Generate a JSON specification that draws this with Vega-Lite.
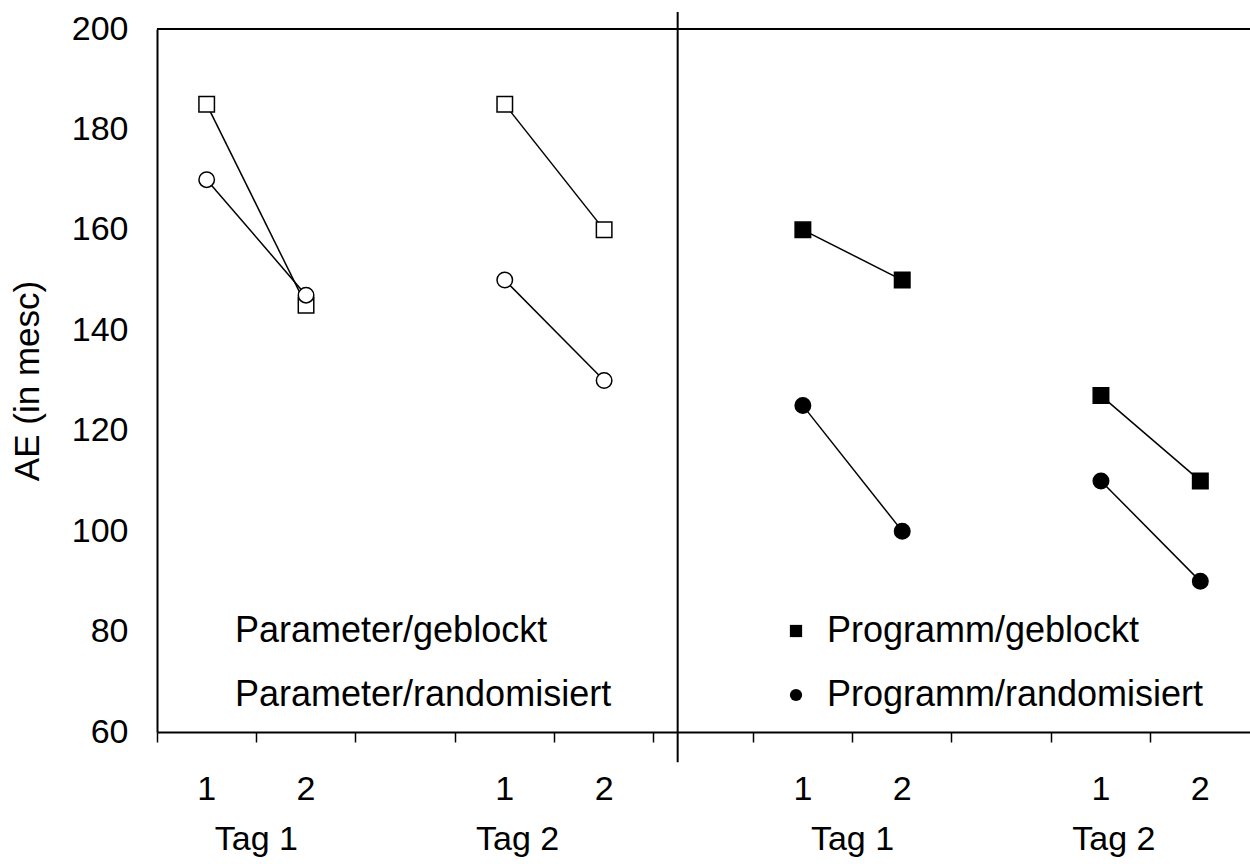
{
  "$schema": "https://vega.github.io/schema/vega-lite/v6.json",
  "width": 1093,
  "height": 703,
  "autosize": {"type": "none"},
  "padding": {"left": 157, "top": 29, "right": 0, "bottom": 132},
  "background": "white",
  "config": {
    "font": "Liberation Sans",
    "view": {"stroke": null},
    "axis": {"labelColor": "black", "titleColor": "black", "domainColor": "black", "tickColor": "black", "labelFont": "Liberation Sans", "titleFont": "Liberation Sans"},
    "legend": {"labelFont": "Liberation Sans", "labelColor": "black"}
  },
  "datasets": {
    "werte": [
      {"series": "Parameter/geblockt", "tag": "Tag 1", "block": "1", "slot": "P-T1-1", "AE": 185},
      {"series": "Parameter/geblockt", "tag": "Tag 1", "block": "2", "slot": "P-T1-2", "AE": 145},
      {"series": "Parameter/geblockt", "tag": "Tag 2", "block": "1", "slot": "P-T2-1", "AE": 185},
      {"series": "Parameter/geblockt", "tag": "Tag 2", "block": "2", "slot": "P-T2-2", "AE": 160},
      {"series": "Parameter/randomisiert", "tag": "Tag 1", "block": "1", "slot": "P-T1-1", "AE": 170},
      {"series": "Parameter/randomisiert", "tag": "Tag 1", "block": "2", "slot": "P-T1-2", "AE": 147},
      {"series": "Parameter/randomisiert", "tag": "Tag 2", "block": "1", "slot": "P-T2-1", "AE": 150},
      {"series": "Parameter/randomisiert", "tag": "Tag 2", "block": "2", "slot": "P-T2-2", "AE": 130},
      {"series": "Programm/geblockt", "tag": "Tag 1", "block": "1", "slot": "R-T1-1", "AE": 160},
      {"series": "Programm/geblockt", "tag": "Tag 1", "block": "2", "slot": "R-T1-2", "AE": 150},
      {"series": "Programm/geblockt", "tag": "Tag 2", "block": "1", "slot": "R-T2-1", "AE": 127},
      {"series": "Programm/geblockt", "tag": "Tag 2", "block": "2", "slot": "R-T2-2", "AE": 110},
      {"series": "Programm/randomisiert", "tag": "Tag 1", "block": "1", "slot": "R-T1-1", "AE": 125},
      {"series": "Programm/randomisiert", "tag": "Tag 1", "block": "2", "slot": "R-T1-2", "AE": 100},
      {"series": "Programm/randomisiert", "tag": "Tag 2", "block": "1", "slot": "R-T2-1", "AE": 110},
      {"series": "Programm/randomisiert", "tag": "Tag 2", "block": "2", "slot": "R-T2-2", "AE": 90}
    ]
  },
  "layer": [
    {
      "data": {"name": "werte"},
      "mark": {"type": "line", "stroke": "black", "strokeWidth": 1.5},
      "encoding": {
        "x": {
          "field": "slot", "type": "nominal",
          "scale": {"type": "band", "domain": ["P-T1-1","P-T1-2","gap1","P-T2-1","P-T2-2","gap2","R-T1-1","R-T1-2","gap3","R-T2-1","R-T2-2"], "paddingInner": 0, "paddingOuter": 0},
          "axis": {"title": null, "bandPosition": 0, "labelOffset": 0, "tickSize": 10, "tickWidth": 1.5, "domainWidth": 2, "labelAngle": 0, "labelFontSize": 34, "labelPadding": 30, "labelExpr": "substring(datum.value, 5)"}
        },
        "y": {
          "field": "AE", "type": "quantitative",
          "scale": {"domain": [60, 200], "nice": false, "zero": false},
          "axis": {"title": "AE (in mesc)", "titleFontSize": 35, "titleFontWeight": "normal", "titlePadding": 26, "values": [60, 80, 100, 120, 140, 160, 180, 200], "labelFontSize": 34, "labelPadding": 29, "ticks": false, "domainWidth": 2, "grid": false}
        },
        "detail": [{"field": "series", "type": "nominal"}, {"field": "tag", "type": "nominal"}]
      }
    },
    {
      "data": {"values": [{}]},
      "mark": {"type": "rule", "stroke": "black", "strokeWidth": 2},
      "encoding": {
        "y": {"datum": 200, "type": "quantitative"}
      }
    },
    {
      "data": {"values": [{"slot": "gap2"}]},
      "mark": {"type": "rule", "stroke": "black", "strokeWidth": 2},
      "encoding": {
        "x": {"field": "slot", "type": "nominal", "bandPosition": 0.24},
        "y": {"datum": 54, "type": "quantitative"},
        "y2": {"datum": 203.4}
      }
    },
    {
      "data": {"name": "werte"},
      "mark": {"type": "point", "filled": true, "size": 240, "strokeWidth": 1.5, "opacity": 1},
      "encoding": {
        "x": {"field": "slot", "type": "nominal"},
        "y": {"field": "AE", "type": "quantitative"},
        "stroke": {"value": "black"},
        "shape": {
          "field": "series", "type": "nominal",
          "scale": {"domain": ["Parameter/geblockt", "Parameter/randomisiert", "Programm/geblockt", "Programm/randomisiert"], "range": ["square", "circle", "square", "circle"]},
          "legend": {"title": null, "orient": "none", "legendX": 29, "legendY": 584, "columns": 2, "columnPadding": 166, "rowPadding": 28, "labelFontSize": 36, "labelLimit": 600, "labelOffset": 13, "symbolSize": 150, "symbolStrokeColor": "black", "symbolStrokeWidth": 1.5}
        },
        "fill": {
          "field": "series", "type": "nominal",
          "scale": {"domain": ["Parameter/geblockt", "Parameter/randomisiert", "Programm/geblockt", "Programm/randomisiert"], "range": ["white", "white", "black", "black"]}
        }
      }
    },
    {
      "data": {"values": [{"label": "Tag 1", "slot": "P-T1-1"}, {"label": "Tag 1", "slot": "R-T1-1"}]},
      "mark": {"type": "text", "fontSize": 34, "color": "black", "baseline": "middle", "align": "center"},
      "encoding": {
        "x": {"field": "slot", "type": "nominal", "bandPosition": 1},
        "y": {"datum": 38.5, "type": "quantitative"},
        "text": {"field": "label", "type": "nominal"}
      }
    },
    {
      "data": {"values": [{"label": "Tag 2", "slot": "P-T2-1"}, {"label": "Tag 2", "slot": "R-T2-1"}]},
      "mark": {"type": "text", "fontSize": 34, "color": "black", "baseline": "middle", "align": "center"},
      "encoding": {
        "x": {"field": "slot", "type": "nominal", "bandPosition": 0.63},
        "y": {"datum": 38.5, "type": "quantitative"},
        "text": {"field": "label", "type": "nominal"}
      }
    }
  ]
}
